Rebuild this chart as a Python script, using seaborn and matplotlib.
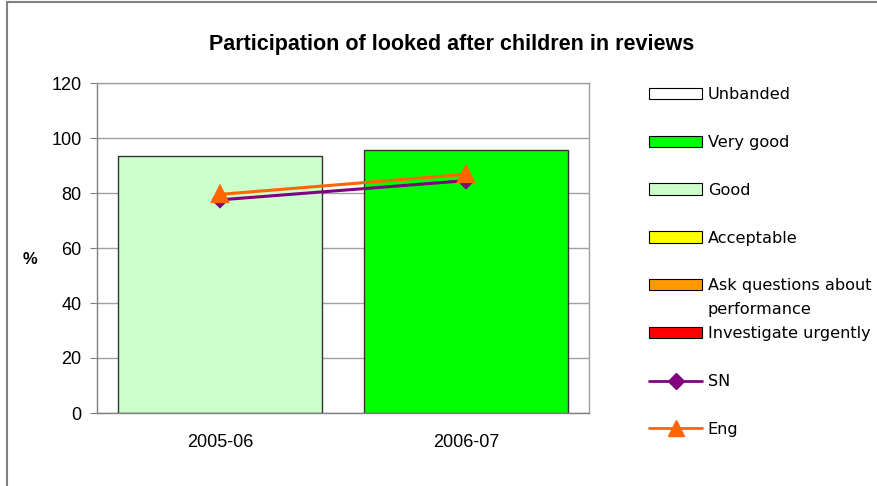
import seaborn as sns
import matplotlib.pyplot as plt
from matplotlib.patches import Patch, Rectangle
from matplotlib.lines import Line2D

# values
years = ['2005-06', '2006-07']
bar_values = [93.5, 95.8]
bar_bands = ['Good', 'Very good']
sn_values = [77.5, 84.5]
eng_values = [79.5, 86.8]

bands = ['Unbanded', 'Very good', 'Good', 'Acceptable',
         'Ask questions about', 'Investigate urgently']
band_colors = ['#FFFFFF', '#00FF00', '#CCFFCC', '#FFFF00', '#FF9900', '#FF0000']
palette = dict(zip(bands, band_colors))

sns.set_style('white')
plt.rcParams['font.family'] = ['Liberation Sans', 'DejaVu Sans']
plt.rcParams['text.color'] = 'black'
plt.rcParams['xtick.color'] = 'black'
plt.rcParams['ytick.color'] = 'black'
plt.rcParams['axes.labelcolor'] = 'black'

W, H = 877, 486
fig = plt.figure(figsize=(W / 100, H / 100), dpi=100)
ax = fig.add_axes([97 / W, 1 - 413 / H, (589 - 97) / W, (413 - 83) / H])

sns.barplot(x=years, y=bar_values, hue=bar_bands, palette=palette, dodge=False,
            saturation=1, width=0.83, edgecolor='#333333', linewidth=1,
            legend=False, ax=ax, zorder=2)
sns.pointplot(x=years, y=sn_values, color='#800080', markers='D', markersize=7,
              linewidth=2.2, errorbar=None, ax=ax, zorder=3)
sns.pointplot(x=years, y=eng_values, color='#FF6600', markers='^', markersize=11,
              linewidth=2.2, errorbar=None, ax=ax, zorder=4)

ax.set_xlim(-0.5, 1.5)
ax.set_ylim(0, 120)
ax.set_yticks(range(0, 121, 20))
ax.yaxis.grid(True, color='#A0A0A0', linewidth=1)
ax.set_axisbelow(True)
for s in ax.spines.values():
    s.set_color('#A0A0A0')
    s.set_linewidth(1)
ax.spines['left'].set_color('#808080')
ax.spines['bottom'].set_color('#808080')

ax.set_xticks([0, 1])
ax.set_xticklabels(years)
ax.set_xticks([-0.5, 0.5, 1.5], minor=True)
ax.tick_params(axis='x', which='major', length=0, pad=15, labelsize=13)
ax.tick_params(axis='x', which='minor', length=5, color='#808080', direction='out')
ax.tick_params(axis='y', length=5, color='#808080', direction='out', pad=6,
               labelsize=13, left=True)
ax.set_xlabel('')
ax.set_ylabel('%', rotation=0, fontsize=12, fontweight='bold', va='center', ha='center')
ax.yaxis.set_label_coords(-0.137, 0.464)

fig.text(452 / W, 1 - 44.5 / H, 'Participation of looked after children in reviews',
         ha='center', va='center', fontsize=15.5, fontweight='bold')

# legend
handles = [Patch(facecolor=c, edgecolor='black', linewidth=0.8) for c in band_colors]
handles.append(Line2D([0], [0], color='#800080', lw=2, marker='D', markersize=8))
handles.append(Line2D([0], [0], color='#FF6600', lw=2, marker='^', markersize=11))
labels = bands + ['SN', 'Eng']
leg = fig.legend(handles, labels, loc='upper left', bbox_to_anchor=(649 / W, 1 - 87 / H),
                 frameon=False, borderpad=0, borderaxespad=0, handlelength=3.3,
                 handleheight=0.7, handletextpad=0.35, labelspacing=2.04,
                 prop={'family': 'DejaVu Sans', 'size': 11.6})

fig.canvas.draw()
bb = leg.get_texts()[4].get_window_extent()
fig.text(bb.x0 / W, ((bb.y0 + bb.y1) / 2 - 24) / H, 'performance',
         ha='left', va='center', fontsize=11.6, family='DejaVu Sans')

# chart border (top and left edges visible)
fig.patches.append(Rectangle((7 / W, -0.1), 1.2, 1.1 - 2 / H, transform=fig.transFigure,
                             fill=False, edgecolor='#808080', linewidth=1.5))

fig.savefig('out.png', dpi=100)
